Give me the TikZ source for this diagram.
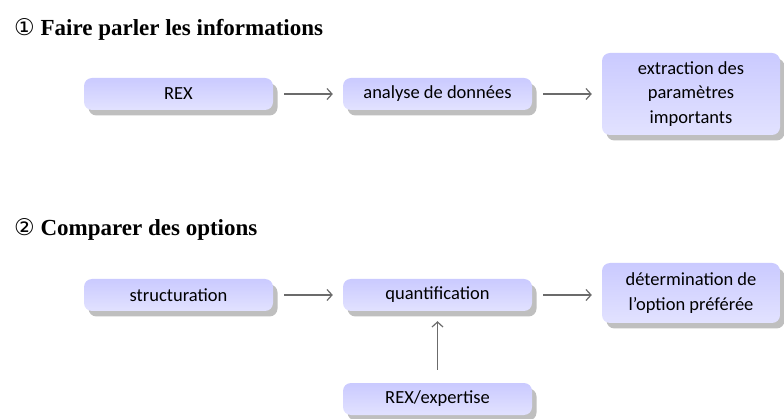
\documentclass[tikz,border=0pt]{standalone}
\usepackage{fontspec}
\setmainfont{Liberation Serif}
\newfontfamily\boxfont{Carlito}
\newfontfamily\symfont{DejaVu Sans}
\usetikzlibrary{shadows,arrows.meta}
\definecolor{boxtop}{RGB}{202,202,255}
\definecolor{boxbot}{RGB}{226,226,255}
\tikzset{
  box/.style={rounded corners=8pt, top color=boxtop, bottom color=boxbot, draw=none,
    minimum width=189pt, minimum height=32pt, inner sep=0pt, align=center,
    font=\boxfont\fontsize{18.5}{24.5}\selectfont,
    drop shadow={shadow xshift=4.5pt, shadow yshift=-5.5pt, fill=black!25, opacity=1}},
  arr/.style={-{Straight Barb[length=5pt,width=11pt,line width=1.2pt]}, draw=black!58, line width=1.2pt, shorten <=11pt, shorten >=10pt},
  head/.style={anchor=west, inner sep=0pt, font=\bfseries\fontsize{23}{26}\selectfont}
}
\begin{document}
\begin{tikzpicture}[x=1pt,y=1pt]
\useasboundingbox (0,0) rectangle (784,-419);
\node[head] (h1) at (14,-29) {{\symfont\mdseries ①} Faire parler les informations};
\node[head] (h2) at (14,-229) {{\symfont\mdseries ②} Comparer des options};

\node[box] (rex) at (178.5,-94) {REX};
\node[box] (ana) at (437.5,-94) {analyse de données};
\node[box, minimum width=178pt, minimum height=82pt] (ext) at (691,-94) {extraction des\\paramètres\\importants};

\node[box] (str) at (178.5,-295) {structuration};
\node[box] (qua) at (437.5,-295) {quantification};
\node[box, minimum width=178pt, minimum height=60pt] (det) at (691,-293) {détermination de\\l’option préférée};
\node[box] (rexe) at (437.5,-399) {REX/expertise};

\draw[arr] (rex) -- (ana);
\draw[arr] (ana) -- (ext.west |- ana.east);
\draw[arr] (str) -- (qua);
\draw[arr] (qua) -- (det.west |- qua.east);
\draw[arr, shorten <=13pt] (rexe) -- (qua);
\end{tikzpicture}
\end{document}
